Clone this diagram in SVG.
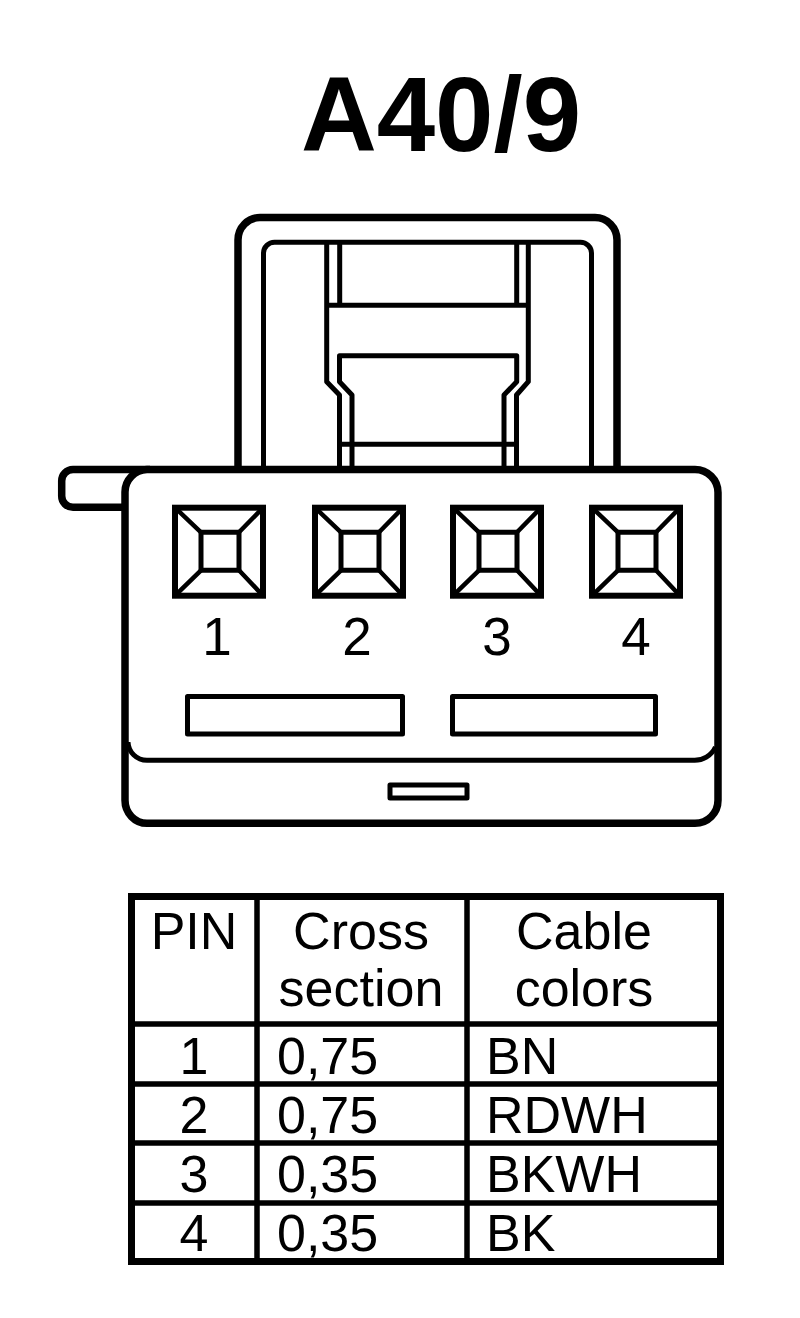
<svg xmlns="http://www.w3.org/2000/svg" width="800" height="1318" viewBox="0 0 800 1318">
<style>
.l{fill:none;stroke:#000;stroke-width:5;stroke-linejoin:round}
.h{fill:none;stroke:#000;stroke-width:7.5;stroke-linejoin:round}
.t{font-family:"Liberation Sans",Arial,sans-serif;fill:#000}
.d{font-size:53px;text-anchor:middle}
.c{font-size:52px}
.m{text-anchor:middle}
.g{fill:none;stroke:#000;stroke-width:6}
.e{fill:none;stroke:#000;stroke-width:4.5}
.b{fill:none;stroke:#000;stroke-width:7}
</style>
<defs>
<g id="pin">
<rect class="g" x="3" y="3" width="88" height="88"/>
<rect class="l" x="29" y="27.6" width="38" height="38"/>
<path class="e" d="M2 2L29 27.6M92 2L67 27.6M2 92L29 65.6M92 92L67 65.6"/>
</g>
</defs>
<rect width="800" height="1318" fill="#fff"/>
<text id="title" class="t m" x="441" y="151" font-size="105" font-weight="700">A40/9</text>
<g id="latch">
<path class="h" d="M238 470V240A22 22.5 0 0 1 260 217.5H595A22 22.5 0 0 1 617 240V470"/>
<path class="l" d="M263.5 470V253A11 11 0 0 1 274.5 242.3H580.5A11 11 0 0 1 591.5 253V470"/>
<path class="l" d="M339.7 242.3V305.3M516.7 242.3V305.3M326.7 305.3H528.3M326.7 242.3V381.7L339.5 395V470M528.3 242.3V381.7L516.5 395V470"/>
<path class="l" d="M352 470V395L339.5 381.7V355.7H516.7V381.7L504 395V470M339.5 444.3H516.5"/>
</g>
<g id="body">
<path class="h" d="M73 507.3A11.3 11.3 0 0 1 61.7 496V481A11.5 11.5 0 0 1 73 469.5H150M125 507.3H73"/>
<path class="h" fill="#fff" style="fill:#fff" d="M125 492A22.5 22.5 0 0 1 147 469.5H695A23 23 0 0 1 718 492.5V800.3A23 23 0 0 1 695 823.3H147A22 23 0 0 1 125 800.3Z"/>
<path class="l" d="M128 742A19 19 0 0 0 147 760.3H693A23 23 0 0 0 715.5 747"/>
<rect class="l" x="187.5" y="696.5" width="215" height="37.5"/>
<rect class="l" x="452.5" y="696.5" width="203" height="37.5"/>
<rect class="l" x="390" y="785" width="77" height="13"/>
</g>
<g id="pin1"><use href="#pin" x="172" y="504.7"/><text class="t d" x="217" y="655">1</text></g>
<g id="pin2"><use href="#pin" x="312" y="504.7"/><text class="t d" x="357" y="655">2</text></g>
<g id="pin3"><use href="#pin" x="450" y="504.7"/><text class="t d" x="497" y="655">3</text></g>
<g id="pin4"><use href="#pin" x="589" y="504.7"/><text class="t d" x="636" y="655">4</text></g>
<g id="table">
<rect class="b" x="131.5" y="896.5" width="589" height="365"/>
<path class="l" style="stroke-width:5.5" d="M257 896V1262M467 896V1262M131 1024H721M131 1084H721M131 1143H721M131 1203H721"/>
<g class="t c">
<text class="m" x="194" y="949">PIN</text>
<text class="m" x="361" y="949">Cross</text>
<text class="m" x="361" y="1006">section</text>
<text class="m" x="584" y="949">Cable</text>
<text class="m" x="584" y="1006">colors</text>
<text class="m" x="194" y="1074">1</text><text x="277" y="1074">0,75</text><text x="486" y="1074">BN</text>
<text class="m" x="194" y="1133">2</text><text x="277" y="1133">0,75</text><text x="486" y="1133">RDWH</text>
<text class="m" x="194" y="1192">3</text><text x="277" y="1192">0,35</text><text x="486" y="1192">BKWH</text>
<text class="m" x="194" y="1251">4</text><text x="277" y="1251">0,35</text><text x="486" y="1251">BK</text>
</g>
</g>
</svg>
